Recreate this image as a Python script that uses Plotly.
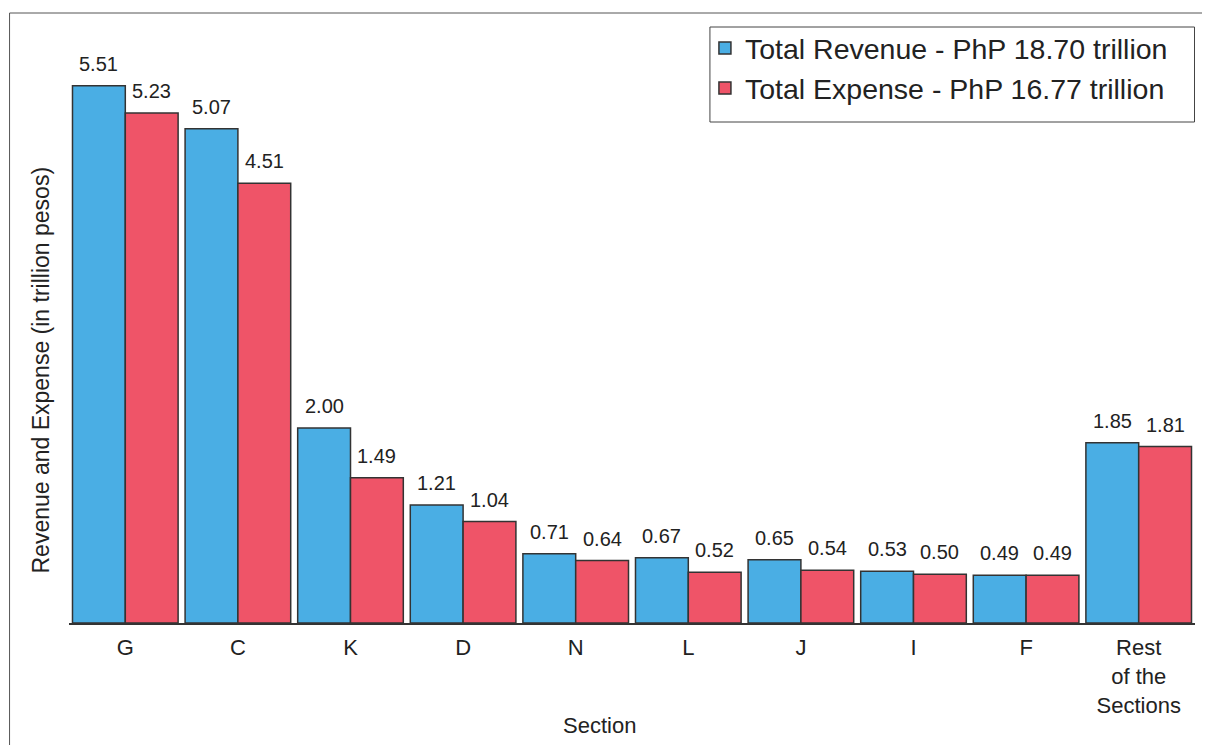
import plotly.graph_objects as go

categories = ["G", "C", "K", "D", "N", "L", "J", "I", "F", "Rest<br>of the<br>Sections"]
revenue = [5.51, 5.07, 2.00, 1.21, 0.71, 0.67, 0.65, 0.53, 0.49, 1.85]
expense = [5.23, 4.51, 1.49, 1.04, 0.64, 0.52, 0.54, 0.50, 0.49, 1.81]
rev_name = "Total Revenue - PhP 18.70 trillion"
exp_name = "Total Expense - PhP 16.77 trillion"

# page body has an 8px margin; layout targets below are in screen pixels
OFF = 8
W, H = 1210, 745
PLOT_L, PLOT_R, PLOT_T, PLOT_B = 68.5, 1195.5, 38, 623   # screen px
L = PLOT_L - OFF
T = PLOT_T - OFF
R = W - (PLOT_R - OFF)
B = H - (PLOT_B - OFF)
PW, PH = W - L - R, H - T - B
BARGAP = 0.062

def px_x(p):
    return (p - PLOT_L) / PW

def px_y(p):
    return (PLOT_B - p) / PH

FONT = "Liberation Sans, Arial, sans-serif"
BLUE = "#4aaee4"
RED = "#ef5468"
EDGE = "#333333"
TXT = "#222222"

fig = go.Figure()
fig.add_trace(go.Bar(x=categories, y=revenue, name=rev_name,
                     marker=dict(color=BLUE, line=dict(color=EDGE, width=1.5))))
fig.add_trace(go.Bar(x=categories, y=expense, name=exp_name,
                     marker=dict(color=RED, line=dict(color=EDGE, width=1.5))))

cat_w = PW / len(categories)
off = cat_w * (1 - BARGAP) / 4
annotations = []
for i, c in enumerate(categories):
    for vals, sh in ((revenue, -off), (expense, off)):
        annotations.append(dict(x=c, y=vals[i], xref="x", yref="y", text=f"{vals[i]:.2f}",
                                showarrow=False, xshift=sh, yshift=9, yanchor="bottom",
                                font=dict(size=20, color=TXT, family=FONT)))

annotations.append(dict(x=px_x(40), y=px_y(370), xref="paper", yref="paper",
                        text="Revenue and Expense (in trillion pesos)", textangle=-90,
                        showarrow=False, xanchor="center", yanchor="middle",
                        font=dict(size=23, color=TXT, family=FONT)))
annotations.append(dict(x=px_x(599), y=px_y(725), xref="paper", yref="paper",
                        text="Section", showarrow=False, xanchor="center", yanchor="middle",
                        font=dict(size=22, color=TXT, family=FONT)))

fig.update_layout(
    width=W, height=H,
    margin=dict(l=L, r=R, t=T, b=B),
    paper_bgcolor="white", plot_bgcolor="white",
    barmode="group", bargap=BARGAP, bargroupgap=0,
    font=dict(family=FONT, color=TXT),
    showlegend=True,
    legend=dict(x=px_x(705), y=px_y(23), xanchor="left", yanchor="top",
                bgcolor="rgba(0,0,0,0)", borderwidth=0,
                font=dict(size=28.5, color=TXT, family=FONT)),
    annotations=annotations,
    shapes=[
        dict(type="rect", xref="paper", yref="paper",
             x0=px_x(9), x1=px_x(1225), y0=px_y(760), y1=px_y(13),
             line=dict(color="#555555", width=1), fillcolor="rgba(0,0,0,0)"),
        dict(type="rect", xref="paper", yref="paper",
             x0=px_x(710), x1=px_x(1195), y0=px_y(122), y1=px_y(27),
             line=dict(color="#444444", width=1), fillcolor="rgba(0,0,0,0)"),
    ],
)
fig.update_xaxes(showline=True, linecolor=EDGE, linewidth=2, showgrid=False,
                 ticks="", tickfont=dict(size=22, color=TXT, family=FONT),
                 ticklabelstandoff=4)
fig.update_yaxes(range=[0, 6.0], showticklabels=False, showgrid=False,
                 zeroline=False, showline=False)

fig.write_html("out.html")
